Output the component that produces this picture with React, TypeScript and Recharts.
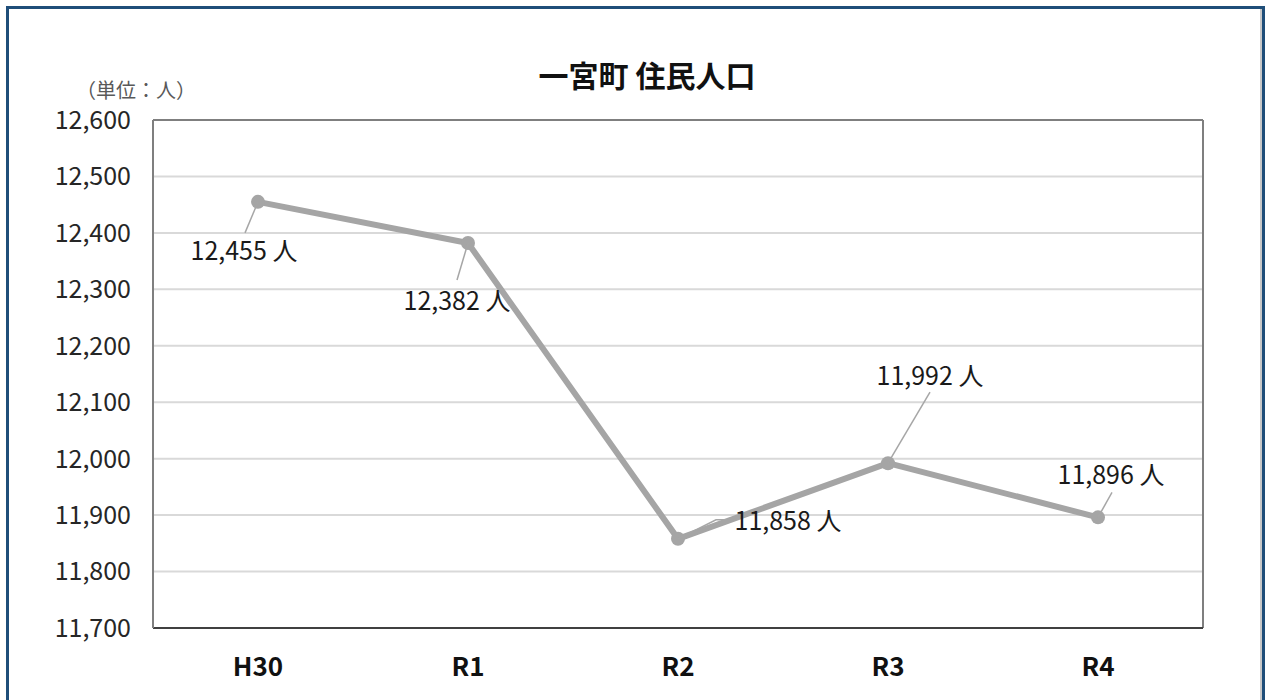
import { CartesianGrid, LabelList, Line, LineChart, ReferenceLine, XAxis, YAxis } from "recharts";

const years = ["H30", "R1", "R2", "R3", "R4"];
const population = [12455, 12382, 11858, 11992, 11896];
const yTicks = [11700, 11800, 11900, 12000, 12100, 12200, 12300, 12400, 12500, 12600];

// where each data label sits relative to its point: text centre and leader line end
const labelOffsets = [
  { tx: -14, ty: 47, lx: -13, ly: 31, bend: 0 },
  { tx: -11, ty: 56, lx: -11, ly: 37, bend: 0 },
  { tx: 110, ty: -20, lx: 49, ly: -19, bend: 11 },
  { tx: 42, ty: -89, lx: 42, ly: -71, bend: 0 },
  { tx: 13, ty: -44, lx: 14, ly: -25, bend: 0 },
];

const data = years.map((year, i) => ({ year, population: population[i] }));

const font = "'Noto Sans CJK JP', 'Noto Sans', sans-serif";

function renderLabel(props: any) {
  const { x, y, value, index } = props;
  const o = labelOffsets[index];
  if (!o) return null;
  const px = Number(x);
  const py = Number(y);
  const path =
    o.bend > 0
      ? `M${px},${py} L${px + o.lx - o.bend},${py + o.ly} L${px + o.lx},${py + o.ly}`
      : `M${px},${py} L${px + o.lx},${py + o.ly}`;
  return (
    <g>
      <path d={path} stroke="#a6a6a6" strokeWidth={1.5} fill="none" />
      <text
        x={px + o.tx}
        y={py + o.ty}
        textAnchor="middle"
        dominantBaseline="central"
        fontSize={25}
        fontFamily={font}
        fill="#1a1a1a"
      >
        {Number(value).toLocaleString("en-US")} 人
      </text>
    </g>
  );
}

export default function App() {
  return (
    <div
      style={{
        position: "absolute",
        left: 0,
        top: 0,
        width: 1269,
        height: 700,
        background: "#fff",
        overflow: "hidden",
        fontFamily: font,
      }}
    >
      <div
        style={{
          position: "absolute",
          left: 6,
          top: 6,
          width: 1253,
          height: 720,
          border: "3px solid #1f4e79",
          boxShadow: "inset -2px -2px 0 #c8c8c8",
        }}
      />
      <div
        style={{
          position: "absolute",
          left: 0,
          top: 56,
          width: 1294,
          textAlign: "center",
          fontSize: 30,
          fontWeight: 700,
          color: "#111",
          lineHeight: "36px",
        }}
      >
        一宮町 住民人口
      </div>
      <div
        style={{
          position: "absolute",
          left: 76,
          top: 77,
          fontSize: 20,
          color: "#595959",
          lineHeight: "26px",
        }}
      >
        （単位：人）
      </div>
      <div style={{ position: "absolute", left: 0, top: 0 }}>
        <LineChart
          width={1269}
          height={700}
          data={data}
          margin={{ top: 120, right: 66, bottom: 42, left: 83 }}
        >
          <CartesianGrid vertical={false} stroke="#d9d9d9" strokeWidth={2} />
          <CartesianGrid
            horizontal={false}
            stroke="#7f7f7f"
            strokeWidth={2}
            verticalCoordinatesGenerator={({ offset }: any) => [
              offset.left,
              offset.left + offset.width,
            ]}
          />
          <ReferenceLine y={12600} stroke="#7f7f7f" strokeWidth={2} />
          <XAxis
            dataKey="year"
            padding={{ left: 105, right: 105 }}
            height={30}
            axisLine={{ stroke: "#404040", strokeWidth: 2 }}
            tickLine={false}
            tickSize={0}
            tickMargin={30}
            tick={{ fontSize: 26, fontWeight: 700, fill: "#111", fontFamily: font }}
          />
          <YAxis
            domain={[11700, 12600]}
            ticks={yTicks}
            width={70}
            axisLine={{ stroke: "#7f7f7f", strokeWidth: 2 }}
            tickLine={false}
            tickSize={0}
            tickMargin={22}
            tickFormatter={(v: number) => v.toLocaleString("en-US")}
            tick={{ fontSize: 25, fill: "#262626", fontFamily: font }}
          />
          <Line
            dataKey="population"
            stroke="#a5a5a5"
            strokeWidth={6}
            dot={{ r: 7, fill: "#a5a5a5", stroke: "none" }}
            activeDot={false}
            isAnimationActive={false}
          >
            <LabelList dataKey="population" content={renderLabel} />
          </Line>
        </LineChart>
      </div>
    </div>
  );
}
